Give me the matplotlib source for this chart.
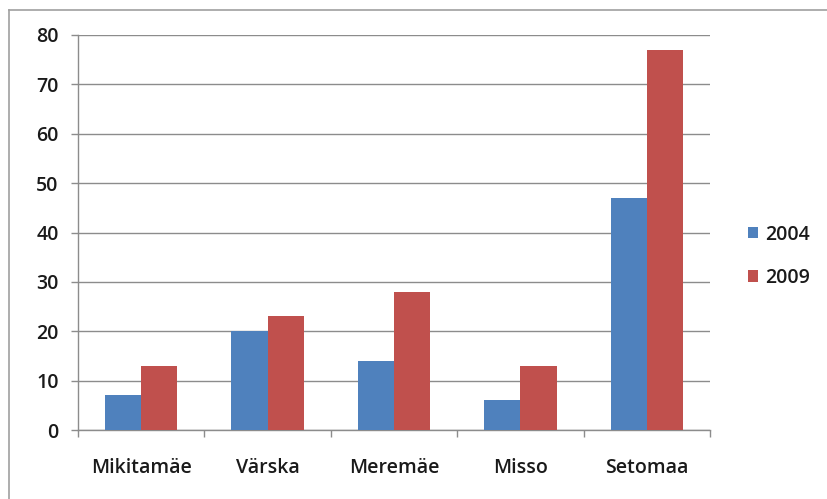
import matplotlib
matplotlib.use("Agg")
import matplotlib.pyplot as plt
import numpy as np
from matplotlib import lines as mlines

categories = ["Mikitamäe", "Värska", "Meremäe", "Misso", "Setomaa"]
years = ["2004", "2009"]
values_2004 = [7, 20, 14, 6, 47]
values_2009 = [13, 23, 28, 13, 77]
y_ticks = [0, 10, 20, 30, 40, 50, 60, 70, 80]

plt.rcParams["font.family"] = ["Open Sans", "DejaVu Sans"]
plt.rcParams["font.weight"] = "semibold"

W, H = 828, 499
fig = plt.figure(figsize=(W / 100, H / 100), dpi=100)
ax = fig.add_axes([78 / W, 1 - 430 / H, (710 - 78) / W, (430 - 35) / H])

gray = "#8c8c8c"
text_col = "#1a1a1a"
x = np.arange(len(categories))
bar_w = 1 / 3.5
ax.bar(x - bar_w / 2, values_2004, width=bar_w, color="#4f81bd", label=years[0], zorder=3)
ax.bar(x + bar_w / 2, values_2009, width=bar_w, color="#c0504d", label=years[1], zorder=3)

ax.set_xlim(-0.5, len(categories) - 0.5)
ax.set_ylim(0, 80)
ax.set_yticks(y_ticks)
ax.set_xticks(x)
ax.set_xticklabels(categories)
ax.set_xticks(np.arange(len(categories) + 1) - 0.5, minor=True)
ax.yaxis.grid(True, color=gray, linewidth=1.0, zorder=0)
ax.set_axisbelow(True)

for side in ("top", "right"):
    ax.spines[side].set_visible(False)
for side in ("left", "bottom"):
    ax.spines[side].set_color(gray)
    ax.spines[side].set_linewidth(1.0)

ax.tick_params(axis="x", which="major", length=0, pad=20, labelsize=14, labelcolor=text_col)
ax.tick_params(axis="x", which="minor", length=5, width=1, color=gray, direction="out")
ax.tick_params(axis="y", length=5, width=1, color=gray, pad=9, labelsize=14, labelcolor=text_col)

leg = ax.legend(loc="center left", bbox_to_anchor=(1.045, 0.44), frameon=False,
                fontsize=14, handlelength=0.5, handleheight=0.5, handletextpad=0.35,
                labelspacing=1.2, borderpad=0)
for t in leg.get_texts():
    t.set_color(text_col)

# outer chart frame
fig.add_artist(mlines.Line2D([9 / W, 9 / W], [0, 1 - 10 / H], color="#a0a0a0", linewidth=1.2))
fig.add_artist(mlines.Line2D([9 / W, 1], [1 - 10 / H, 1 - 10 / H], color="#a0a0a0", linewidth=1.2))

fig.savefig("out.png", dpi=100)
